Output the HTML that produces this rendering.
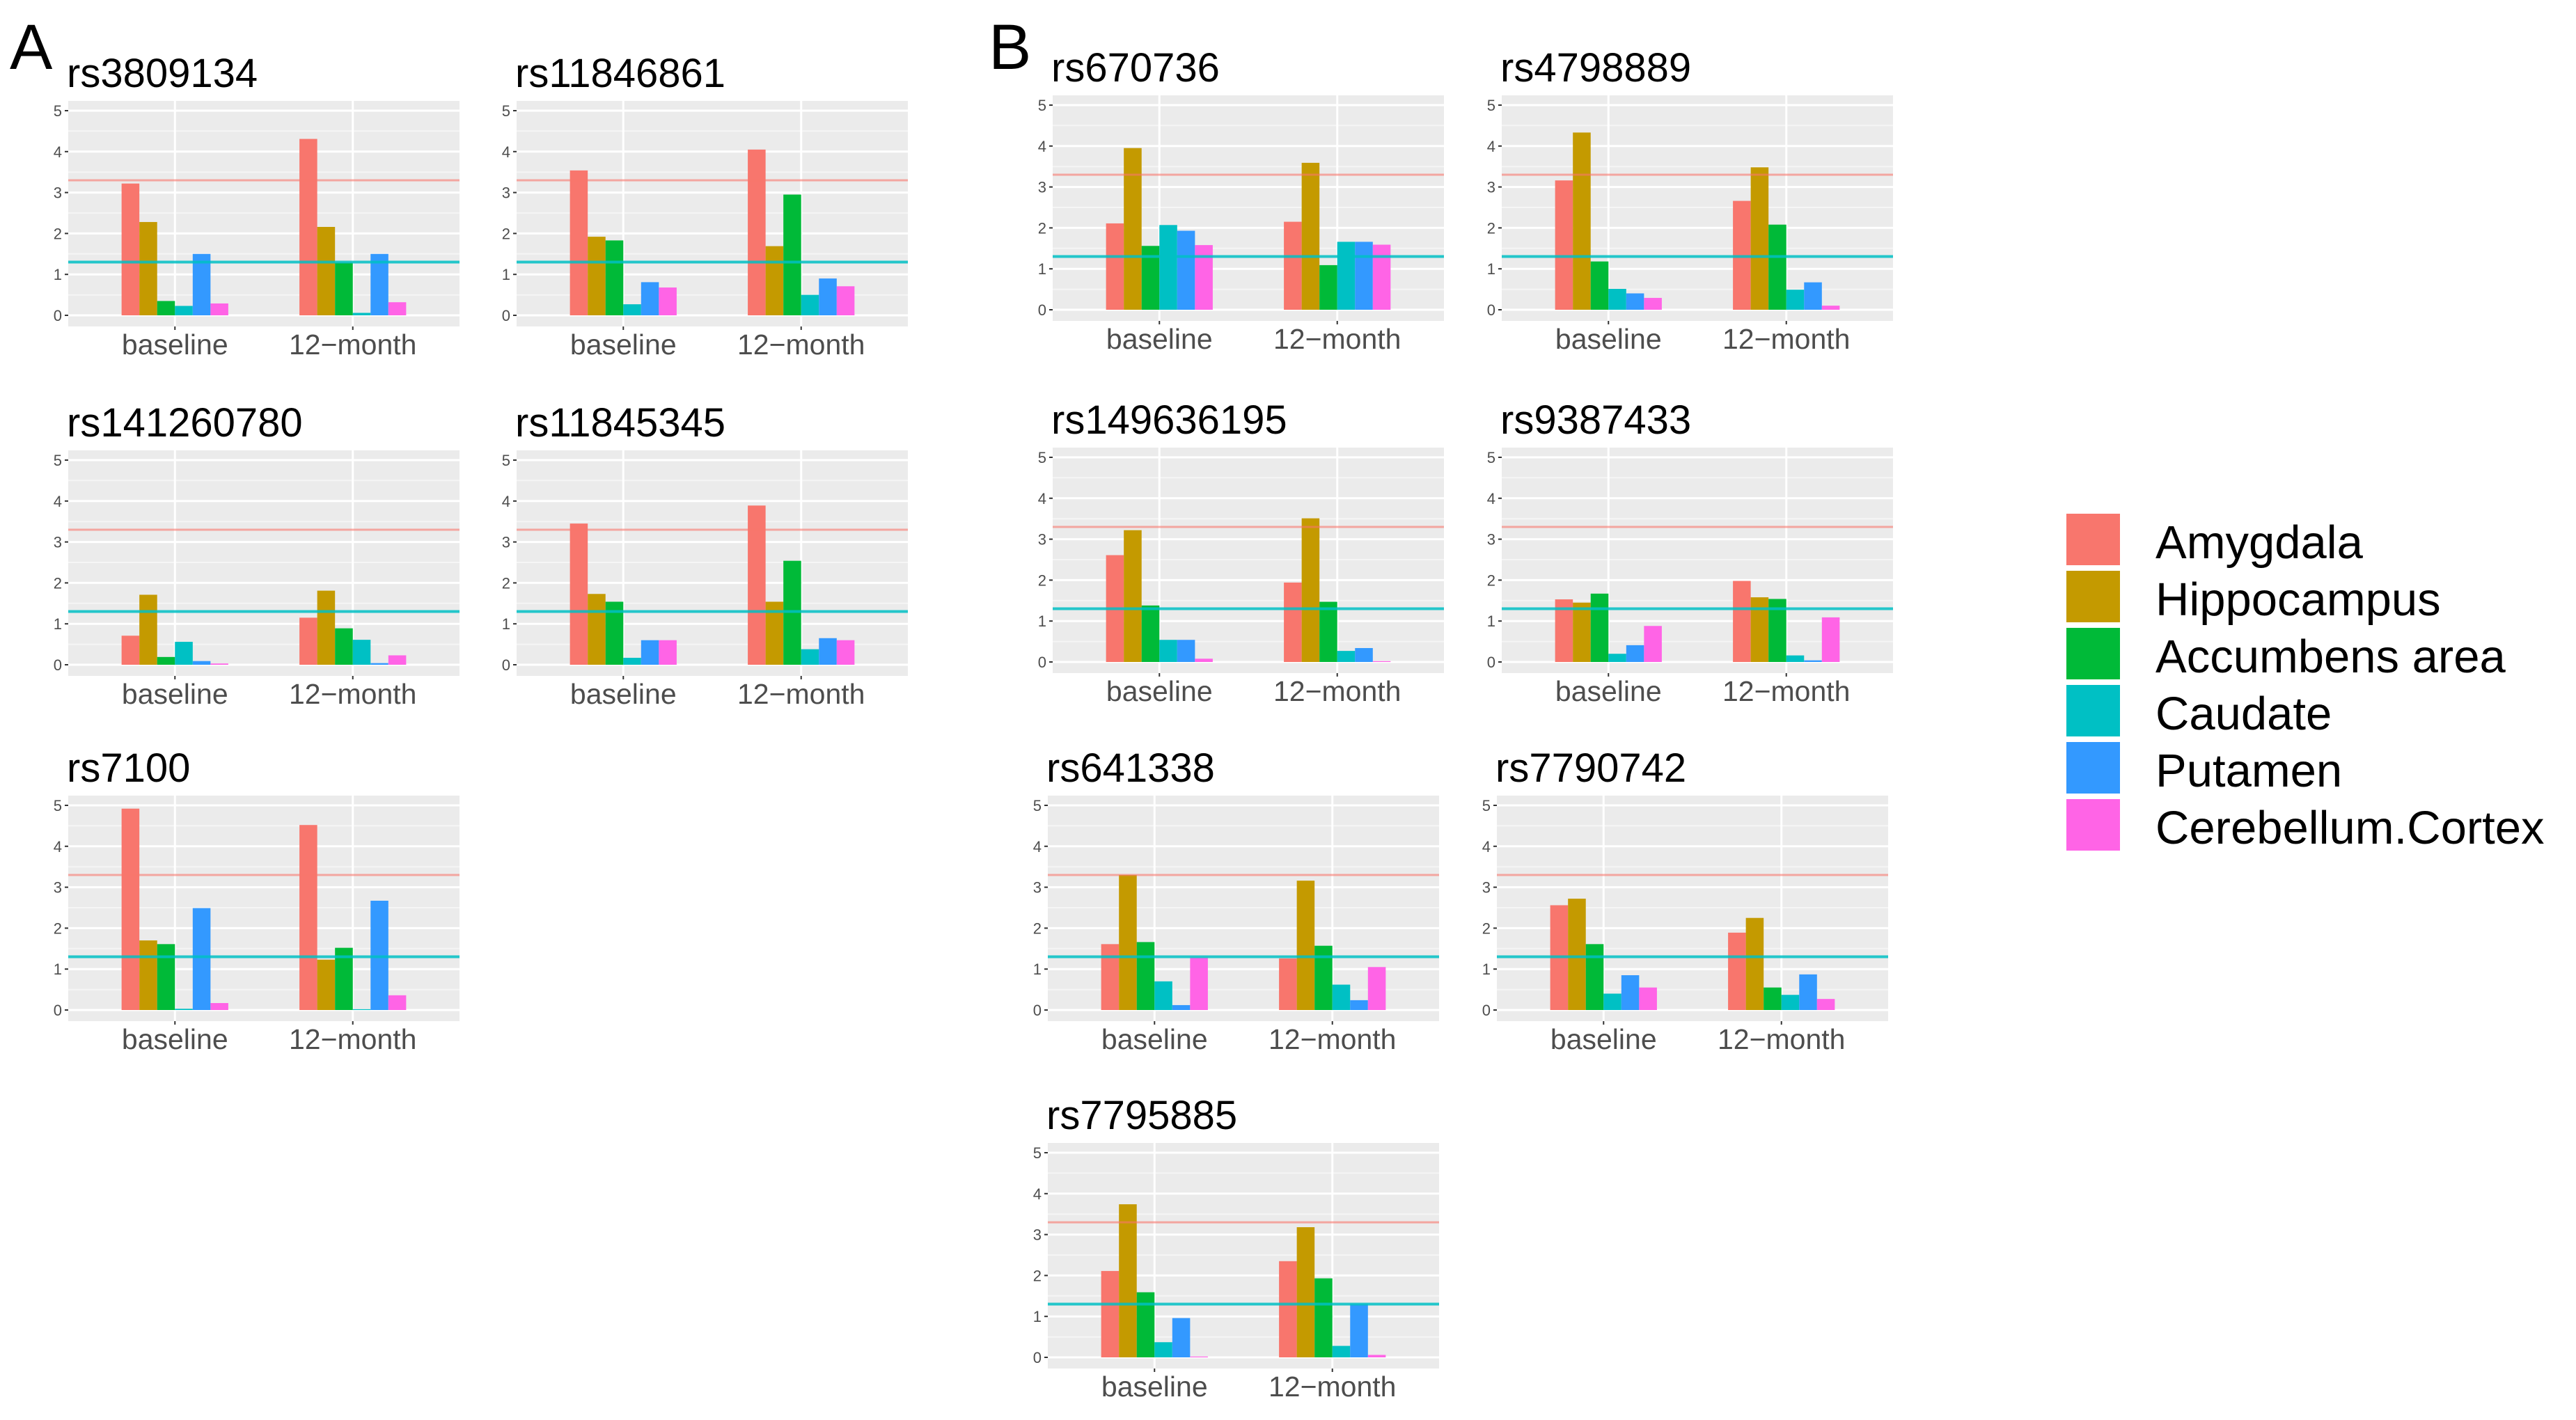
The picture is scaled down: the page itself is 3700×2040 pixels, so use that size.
<!DOCTYPE html>
<html><head><meta charset="utf-8">
<style>
html,body{margin:0;padding:0;background:#fff;}
svg{display:block;font-family:"Liberation Sans",sans-serif;}
</style></head>
<body>
<svg id="fig" width="3700" height="2040" viewBox="0 0 3700 2040" xmlns="http://www.w3.org/2000/svg">
<rect x="0" y="0" width="3700" height="2040" fill="#fff"/>
<text x="14" y="99" font-size="92" fill="#000">A</text>
<text x="1420" y="99" font-size="92" fill="#000">B</text>
<g id="legend"></g>
</svg>
<script>
const categories = ["baseline", "12\u2212month"];
const regions = ["Amygdala","Hippocampus","Accumbens area","Caudate","Putamen","Cerebellum.Cortex"];
const colors = ["#F8766D","#C49A00","#00BA38","#00C0C4","#3399FF","#FF64E6"];
const yTicks = [0,1,2,3,4,5];
const thresholdHigh = 3.3;
const thresholdLow = 1.3;

const snps = ["rs3809134","rs11846861","rs141260780","rs11845345","rs7100","rs670736","rs4798889","rs149636195","rs9387433","rs641338","rs7790742","rs7795885"];
const rs3809134_base = [3.22,2.28,0.35,0.23,1.50,0.29];
const rs3809134_m12  = [4.31,2.16,1.29,0.06,1.50,0.32];
const rs11846861_base = [3.54,1.92,1.83,0.27,0.81,0.68];
const rs11846861_m12  = [4.05,1.69,2.95,0.50,0.90,0.71];
const rs141260780_base = [0.71,1.71,0.19,0.56,0.09,0.03];
const rs141260780_m12  = [1.15,1.81,0.89,0.61,0.04,0.23];
const rs11845345_base = [3.45,1.73,1.54,0.17,0.60,0.60];
const rs11845345_m12  = [3.89,1.54,2.54,0.38,0.65,0.60];
const rs7100_base = [4.92,1.70,1.61,0.03,2.49,0.17];
const rs7100_m12  = [4.52,1.23,1.52,0.02,2.67,0.36];
const rs670736_base = [2.11,3.95,1.56,2.07,1.93,1.58];
const rs670736_m12  = [2.15,3.59,1.09,1.66,1.66,1.59];
const rs4798889_base = [3.16,4.33,1.18,0.51,0.40,0.29];
const rs4798889_m12  = [2.66,3.48,2.08,0.49,0.67,0.10];
const rs149636195_base = [2.61,3.22,1.38,0.54,0.54,0.08];
const rs149636195_m12  = [1.94,3.51,1.47,0.27,0.34,0.02];
const rs9387433_base = [1.53,1.45,1.67,0.20,0.41,0.88];
const rs9387433_m12  = [1.98,1.58,1.54,0.16,0.04,1.09];
const rs641338_base = [1.61,3.30,1.66,0.70,0.12,1.28];
const rs641338_m12  = [1.26,3.16,1.57,0.62,0.24,1.05];
const rs7790742_base = [2.56,2.72,1.61,0.40,0.85,0.55];
const rs7790742_m12  = [1.89,2.25,0.55,0.37,0.87,0.27];
const rs7795885_base = [2.11,3.74,1.59,0.37,0.96,0.02];
const rs7795885_m12  = [2.35,3.18,1.93,0.28,1.30,0.06];

const seriesBySnp = {
  rs3809134:[rs3809134_base,rs3809134_m12], rs11846861:[rs11846861_base,rs11846861_m12],
  rs141260780:[rs141260780_base,rs141260780_m12], rs11845345:[rs11845345_base,rs11845345_m12],
  rs7100:[rs7100_base,rs7100_m12], rs670736:[rs670736_base,rs670736_m12],
  rs4798889:[rs4798889_base,rs4798889_m12], rs149636195:[rs149636195_base,rs149636195_m12],
  rs9387433:[rs9387433_base,rs9387433_m12], rs641338:[rs641338_base,rs641338_m12],
  rs7790742:[rs7790742_base,rs7790742_m12], rs7795885:[rs7795885_base,rs7795885_m12]
};

const layout = {
  rs3809134:[98,145], rs11846861:[742,145],
  rs141260780:[98,647], rs11845345:[742,647],
  rs7100:[98,1143],
  rs670736:[1512,137], rs4798889:[2157,137],
  rs149636195:[1512,643], rs9387433:[2157,643],
  rs641338:[1505,1143], rs7790742:[2150,1143],
  rs7795885:[1505,1642]
};
const PW = 562, PH = 324, Y0 = 308, UNIT = 58.8;
const NS = "http://www.w3.org/2000/svg";
const svg = document.getElementById("fig");
function mk(tag, attrs, parent){
  const e = document.createElementNS(NS, tag);
  for (const k in attrs) e.setAttribute(k, attrs[k]);
  (parent||svg).appendChild(e);
  return e;
}

snps.forEach(snp => {
  const [L, T] = layout[snp];
  const g = mk("g", {});
  
  
  const yScale = v => T + Y0 - v * UNIT;
  const xScale = i => L + PW * (0.6 + i) / 2.2;
  const bw = PW * 0.6 / 2.2 / 6;

  const title = mk("text", {x: L - 2, y: T - 20, "font-size": 58, fill: "#000"}, g);
  title.textContent = snp;
  
  

  const bg = mk("rect", {x: L, y: T, width: PW, height: PH, fill: "#EBEBEB"}, g);
  
  

  for (let v = 0.5; v <= 5; v += 1) {
    const ml = mk("line", {x1: L, x2: L + PW, y1: yScale(v), y2: yScale(v), stroke: "#F5F5F5", "stroke-width": 2}, g);
    
    
  }
  yTicks.forEach(v => {
    const gl = mk("line", {x1: L, x2: L + PW, y1: yScale(v), y2: yScale(v), stroke: "#fff", "stroke-width": 3}, g);
    
    
    const tk = mk("line", {x1: L - 5, x2: L, y1: yScale(v), y2: yScale(v), stroke: "#333", "stroke-width": 2}, g);
    
    
    const tl = mk("text", {x: L - 9, y: yScale(v) + 8, "font-size": 22, fill: "#4D4D4D", "text-anchor": "end"}, g);
    tl.textContent = v;
    
    
  });
  categories.forEach((c, ci) => {
    const vl = mk("line", {x1: xScale(ci), x2: xScale(ci), y1: T, y2: T + PH, stroke: "#fff", "stroke-width": 3}, g);
    
    
    const tk = mk("line", {x1: xScale(ci), x2: xScale(ci), y1: T + PH, y2: T + PH + 5, stroke: "#333", "stroke-width": 2}, g);
    
    
    const xl = mk("text", {x: xScale(ci), y: T + PH + 40, "font-size": 41, fill: "#4D4D4D", "text-anchor": "middle"}, g);
    xl.textContent = c;
    
    
    const vals = seriesBySnp[snp][ci];
    vals.forEach((v, ri) => {
      const x = xScale(ci) - 3 * bw + ri * bw;
      const b = mk("rect", {x: x, y: yScale(v), width: bw, height: Math.max(0, yScale(0) - yScale(v)), fill: colors[ri]}, g);
      
      
    });
  });
  const hl = mk("line", {x1: L, x2: L + PW, y1: yScale(thresholdHigh), y2: yScale(thresholdHigh), stroke: "#F8766D", "stroke-opacity": 0.6, "stroke-width": 3}, g);
  
  
  const ll = mk("line", {x1: L, x2: L + PW, y1: yScale(thresholdLow), y2: yScale(thresholdLow), stroke: "#00BFC4", "stroke-opacity": 0.85, "stroke-width": 4}, g);
  
  
});

const lg = document.getElementById("legend");
regions.forEach((r, i) => {
  const y = 738 + i * 82;
  const k = mk("rect", {x: 2968, y: y, width: 77, height: 74, fill: colors[i]}, lg);
  
  
  const t = mk("text", {x: 3096, y: y + 64, "font-size": 67, fill: "#000"}, lg);
  t.textContent = r;
  
  
});
</script>
</body></html>
